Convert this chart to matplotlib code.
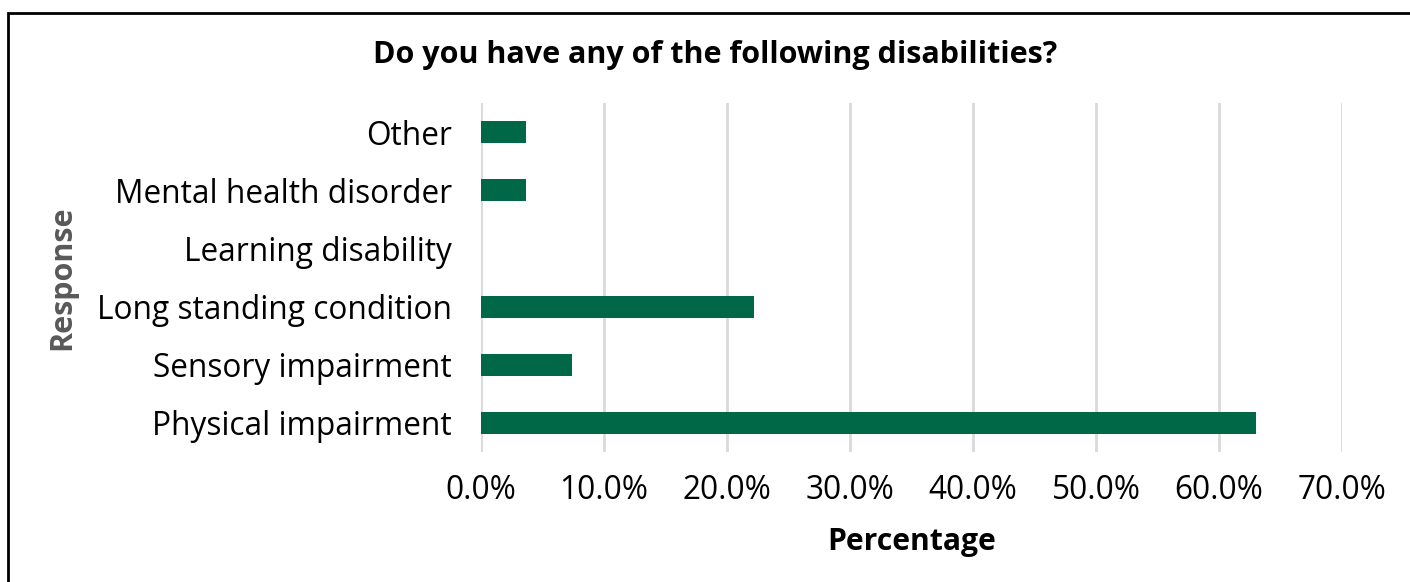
import matplotlib
matplotlib.use('Agg')
import matplotlib.pyplot as plt
from matplotlib.patches import Rectangle
from matplotlib.ticker import PercentFormatter

plt.rcParams['font.family'] = ['Open Sans', 'DejaVu Sans']

categories = ['Physical impairment', 'Sensory impairment', 'Long standing condition',
              'Learning disability', 'Mental health disorder', 'Other']
values = [63.0, 7.4, 22.2, 0.0, 3.7, 3.7]

fig = plt.figure(figsize=(14.1, 5.82), dpi=100)
ax = fig.add_axes([0.3411, 0.2234, 0.6107, 0.5996])

ax.barh(range(len(categories)), values, height=0.38, color='#006847', zorder=3)
ax.set_yticks(range(len(categories)))
ax.set_yticklabels(categories, fontsize=22.8)
ax.set_ylim(-0.5, len(categories) - 0.5)
ax.set_xlim(0, 70)
ax.set_xticks(range(0, 71, 10))
ax.xaxis.set_major_formatter(PercentFormatter(decimals=1))
ax.tick_params(axis='x', labelsize=22.8, length=0, pad=16)
ax.tick_params(axis='y', length=0, pad=21)
ax.grid(axis='x', color='#d9d9d9', linewidth=2, zorder=0)
for s in ax.spines.values():
    s.set_visible(False)

ax.set_xlabel('Percentage', fontsize=21.7, fontweight='bold', labelpad=14)
fig.text(0.044, 0.522, 'Response', rotation=90, fontsize=22, fontweight='bold',
         color='#595959', ha='center', va='center')
fig.text(0.507, 0.906, 'Do you have any of the following disabilities?', fontsize=22,
         fontweight='bold', ha='center', va='center')

fig.patches.append(Rectangle((8 / 1410, -0.05), 1.1, 1 - 13 / 582 + 0.05, transform=fig.transFigure,
                             fill=False, edgecolor='black', linewidth=2))

fig.savefig('out.png', dpi=100)
